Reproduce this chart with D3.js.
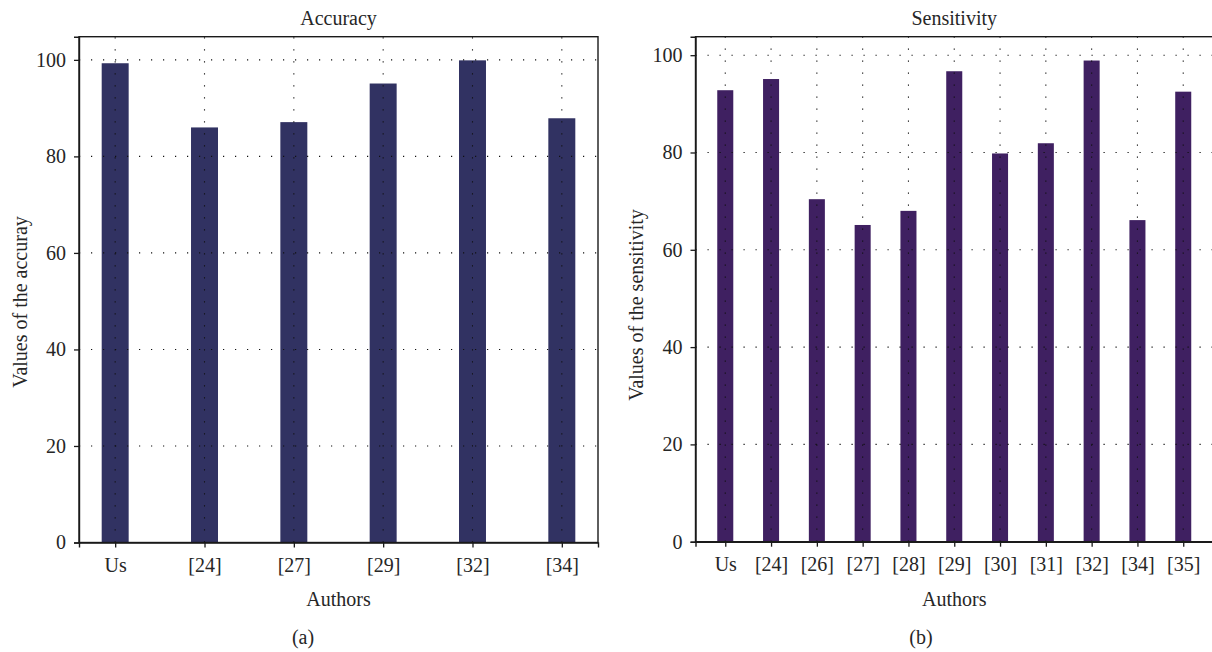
<!DOCTYPE html>
<html>
<head>
<meta charset="utf-8">
<script src="https://cdn.jsdelivr.net/npm/d3@7"></script>
<style>
  html, body { margin: 0; padding: 0; background: #fff; }
  svg { display: block; }
  text { font-family: "Liberation Serif", "DejaVu Serif", serif; fill: #262626; }
</style>
</head>
<body>
<svg id="chart" width="1212" height="652"></svg>
<script>
// ---- Data ----
const accCategories = ["Us", "[24]", "[27]", "[29]", "[32]", "[34]"];
const accValues = [99.3, 86.0, 87.1, 95.1, 99.9, 87.9];

const sensCategories = ["Us", "[24]", "[26]", "[27]", "[28]", "[29]", "[30]", "[31]", "[32]", "[34]", "[35]"];
const sensValues = [92.8, 95.1, 70.4, 65.1, 68.0, 96.7, 79.8, 81.9, 98.9, 66.1, 92.5];

const yTicks = [0, 20, 40, 60, 80, 100];

const svg = d3.select("#chart");

function panel(opts) {
  const { x0, x1, yTop, yBottom, yMax, cats, vals, color, barFrac, pad,
          title, yLabel, yLabelY, yLabelX, tag, tagX } = opts;
  const g = svg.append("g");

  const x = d3.scalePoint().domain(cats).range([x0, x1]).padding(pad);
  const y = d3.scaleLinear().domain([0, yMax]).range([yBottom, yTop]);
  const bw = x.step() * barFrac;

  // bars
  g.selectAll("rect.bar").data(cats).join("rect")
    .attr("class", "bar")
    .attr("x", d => x(d) - bw / 2)
    .attr("width", bw)
    .attr("y", (d, i) => y(vals[i]))
    .attr("height", (d, i) => y(0) - y(vals[i]))
    .attr("fill", color);

  // dotted grid (drawn over bars)
  const grid = g.append("g").attr("stroke", "#111").attr("stroke-width", 1.1)
    .attr("stroke-dasharray", "1.2,10.8");
  grid.selectAll("line.h").data(yTicks.filter(t => t > 0)).join("line")
    .attr("x1", x0).attr("x2", x1)
    .attr("y1", d => y(d)).attr("y2", d => y(d));
  grid.selectAll("line.v").data(cats).join("line")
    .attr("x1", d => x(d)).attr("x2", d => x(d))
    .attr("y1", yBottom).attr("y2", yTop);

  // frame
  g.append("rect")
    .attr("x", x0).attr("y", yTop)
    .attr("width", x1 - x0).attr("height", yBottom - yTop)
    .attr("fill", "none").attr("stroke", "#1a1a1a").attr("stroke-width", 1.4);

  // axes
  const yAxis = g.append("g").attr("transform", `translate(${x0},0)`)
    .call(d3.axisLeft(y).tickValues(yTicks).tickSize(5).tickPadding(8));
  const xAxis = g.append("g").attr("transform", `translate(0,${yBottom})`)
    .call(d3.axisBottom(x).tickSize(5).tickPadding(10));
  [yAxis, xAxis].forEach(a => {
    a.select(".domain").attr("stroke", "#1a1a1a").attr("stroke-width", 1.4);
    a.selectAll(".tick line").attr("stroke", "#1a1a1a").attr("stroke-width", 1.3);
    a.selectAll(".tick text").attr("font-size", 20)
      .attr("font-family", '"Liberation Serif", serif').attr("fill", "#262626");
  });

  // title
  const cx = (x0 + Math.min(x1, 1213)) / 2;
  g.append("text").attr("x", cx).attr("y", 25)
    .attr("text-anchor", "middle").attr("font-size", 20).text(title);
  // x label
  g.append("text").attr("x", cx).attr("y", 606)
    .attr("text-anchor", "middle").attr("font-size", 20).text("Authors");
  // y label
  g.append("text")
    .attr("transform", `translate(${yLabelX},${yLabelY}) rotate(-90)`)
    .attr("text-anchor", "middle").attr("font-size", 20).text(yLabel);
  // subfigure tag
  g.append("text").attr("x", tagX).attr("y", 644)
    .attr("text-anchor", "middle").attr("font-size", 20).text(tag);
}

panel({
  x0: 79, x1: 598, yTop: 36.7, yBottom: 542.5, yMax: 104.8,
  cats: accCategories, vals: accValues, color: "#313262",
  barFrac: 0.302, pad: 0.405,
  title: "Accuracy", yLabel: "Values of the accuray",
  yLabelX: 27, yLabelY: 302, tag: "(a)", tagX: 303
});

panel({
  x0: 695.5, x1: 1213, yTop: 36.7, yBottom: 541.7, yMax: 103.8,
  cats: sensCategories, vals: sensValues, color: "#3f2061",
  barFrac: 0.35, pad: 0.65,
  title: "Sensitivity", yLabel: "Values of the sensitivity",
  yLabelX: 643, yLabelY: 305, tag: "(b)", tagX: 921
});
</script>
</body>
</html>
